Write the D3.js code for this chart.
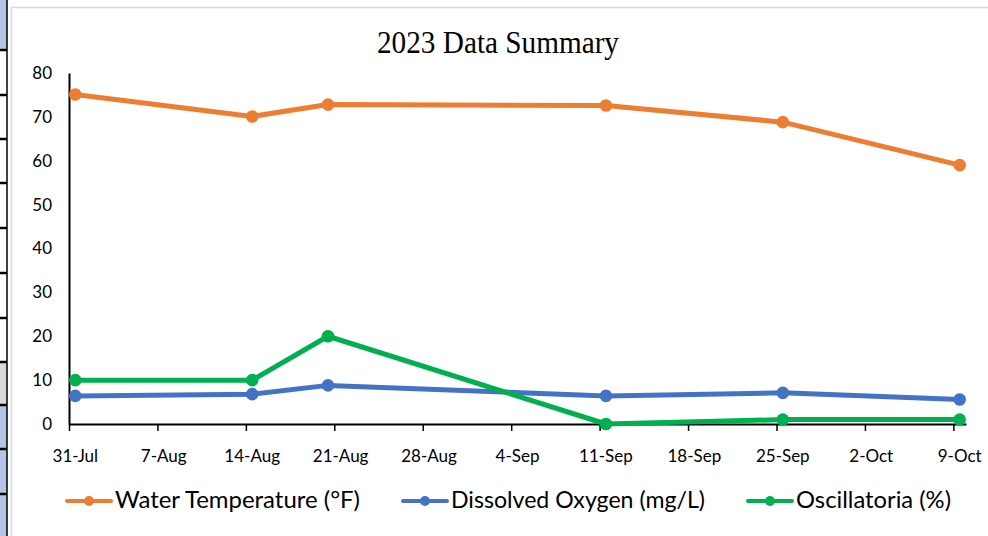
<!DOCTYPE html>
<html>
<head>
<meta charset="utf-8">
<script src="https://cdn.jsdelivr.net/npm/d3@7"></script>
<style>
  html, body { margin: 0; padding: 0; background: #ffffff; }
  svg { display: block; }
</style>
</head>
<body>
<svg id="chart" width="988" height="536"></svg>
<script>
// ---- data ----
const dates = ["2023-07-31", "2023-08-14", "2023-08-20", "2023-09-11", "2023-09-25", "2023-10-09"];
const waterTemp = [75.1, 70.1, 72.8, 72.6, 68.8, 59.0];
const dissolvedOxygen = [6.4, 6.8, 8.8, 6.4, 7.1, 5.6];
const oscillatoria = [10, 10, 20, 0, 1, 1];
const seriesNames = ["Water Temperature (°F)", "Dissolved Oxygen (mg/L)", "Oscillatoria (%)"];
const yTicks = [0, 10, 20, 30, 40, 50, 60, 70, 80];
const xTickDates = ["2023-07-31", "2023-08-07", "2023-08-14", "2023-08-21", "2023-08-28", "2023-09-04",
                    "2023-09-11", "2023-09-18", "2023-09-25", "2023-10-02", "2023-10-09"];
const title = "2023 Data Summary";
const colors = ["#ed7d31", "#4472c4", "#00b050"];

const parse = d3.utcParse("%Y-%m-%d");
const fmt = d3.utcFormat("%-d-%b");
const svg = d3.select("#chart");

// ---- spreadsheet edge decoration ----
const edge = svg.append("g");
edge.append("rect").attr("x", 0).attr("y", 0).attr("width", 7).attr("height", 50).attr("fill", "#b4c6e7");
edge.append("rect").attr("x", 0).attr("y", 362).attr("width", 7).attr("height", 43).attr("fill", "#d9d9d9");
edge.append("rect").attr("x", 0).attr("y", 405).attr("width", 7).attr("height", 131).attr("fill", "#b4c6e7");
[50, 95, 139, 183, 228, 273, 318, 362, 405, 449, 494].forEach(y => {
  edge.append("line").attr("x1", 0).attr("x2", 7).attr("y1", y).attr("y2", y)
    .attr("stroke", "#000").attr("stroke-width", 2.5);
});
edge.append("line").attr("x1", 7).attr("x2", 7).attr("y1", 0).attr("y2", 536)
  .attr("stroke", "#000").attr("stroke-width", 1.5);
// chart area border
svg.append("path").attr("d", "M11.5,536 V7.5 H988").attr("fill", "none")
  .attr("stroke", "#d9d9d9").attr("stroke-width", 1.5);

// ---- scales ----
const x = d3.scaleUtc()
  .domain([parse("2023-07-31"), parse("2023-10-10")])
  .range([69, 966]);
const y = d3.scaleLinear().domain([0, 80]).range([424, 73]);
const mid = d => d3.utcHour.offset(parse(d), 12);

// ---- title ----
svg.append("text").attr("x", 498).attr("y", 53).attr("text-anchor", "middle")
  .attr("font-family", "'Liberation Serif', 'Times New Roman', serif")
  .attr("font-size", 31).attr("textLength", 242).attr("lengthAdjust", "spacingAndGlyphs")
  .attr("fill", "#000").text(title);

const tickFont = "Lato, 'Noto Sans', sans-serif";

// ---- y axis ----
const yAxis = svg.append("g").attr("transform", "translate(69,0)")
  .call(d3.axisLeft(y).tickValues(yTicks).tickSize(0).tickPadding(17));
yAxis.select(".domain").attr("stroke", "#000").attr("stroke-width", 2);
yAxis.selectAll("text").attr("font-family", tickFont).attr("font-size", 17).attr("fill", "#000");

// ---- x axis ----
const xAxis = svg.append("g").attr("transform", "translate(0,424)")
  .call(d3.axisBottom(x).tickValues(xTickDates.map(parse)).tickFormat(() => "").tickSize(7).tickSizeOuter(0));
xAxis.select(".domain").attr("stroke", "#000").attr("stroke-width", 2);
xAxis.selectAll(".tick line").attr("stroke", "#000").attr("stroke-width", 1.5);
svg.append("g").selectAll("text").data(xTickDates).join("text")
  .attr("x", d => x(mid(d))).attr("y", 462).attr("text-anchor", "middle")
  .attr("font-family", tickFont).attr("font-size", 17).attr("fill", "#000")
  .text(d => fmt(parse(d)));

// ---- series ----
const allSeries = [waterTemp, dissolvedOxygen, oscillatoria];
const line = d3.line().x(d => x(mid(d.date))).y(d => y(d.v));
allSeries.forEach((vals, i) => {
  const pts = dates.map((d, j) => ({ date: d, v: vals[j] }));
  const g = svg.append("g");
  g.append("path").datum(pts).attr("d", line).attr("fill", "none")
    .attr("stroke", colors[i]).attr("stroke-width", 5).attr("stroke-linejoin", "round").attr("stroke-linecap", "round");
  g.selectAll("circle").data(pts).join("circle")
    .attr("cx", d => x(mid(d.date))).attr("cy", d => y(d.v)).attr("r", 6.3).attr("fill", colors[i]);
});

// ---- legend ----
const legendX = [67, 403, 748];
const legendLen = [245, 254, 155];
const leg = svg.append("g");
seriesNames.forEach((name, i) => {
  const lx = legendX[i];
  leg.append("line").attr("x1", lx).attr("x2", lx + 44).attr("y1", 501).attr("y2", 501)
    .attr("stroke", colors[i]).attr("stroke-width", 4).attr("stroke-linecap", "round");
  leg.append("circle").attr("cx", lx + 22).attr("cy", 501).attr("r", 5).attr("fill", colors[i]);
  leg.append("text").attr("x", lx + 48).attr("y", 508)
    .attr("font-family", tickFont).attr("font-size", 23).attr("fill", "#000")
    .attr("textLength", legendLen[i]).attr("lengthAdjust", "spacingAndGlyphs").text(name);
});
</script>
</body>
</html>
